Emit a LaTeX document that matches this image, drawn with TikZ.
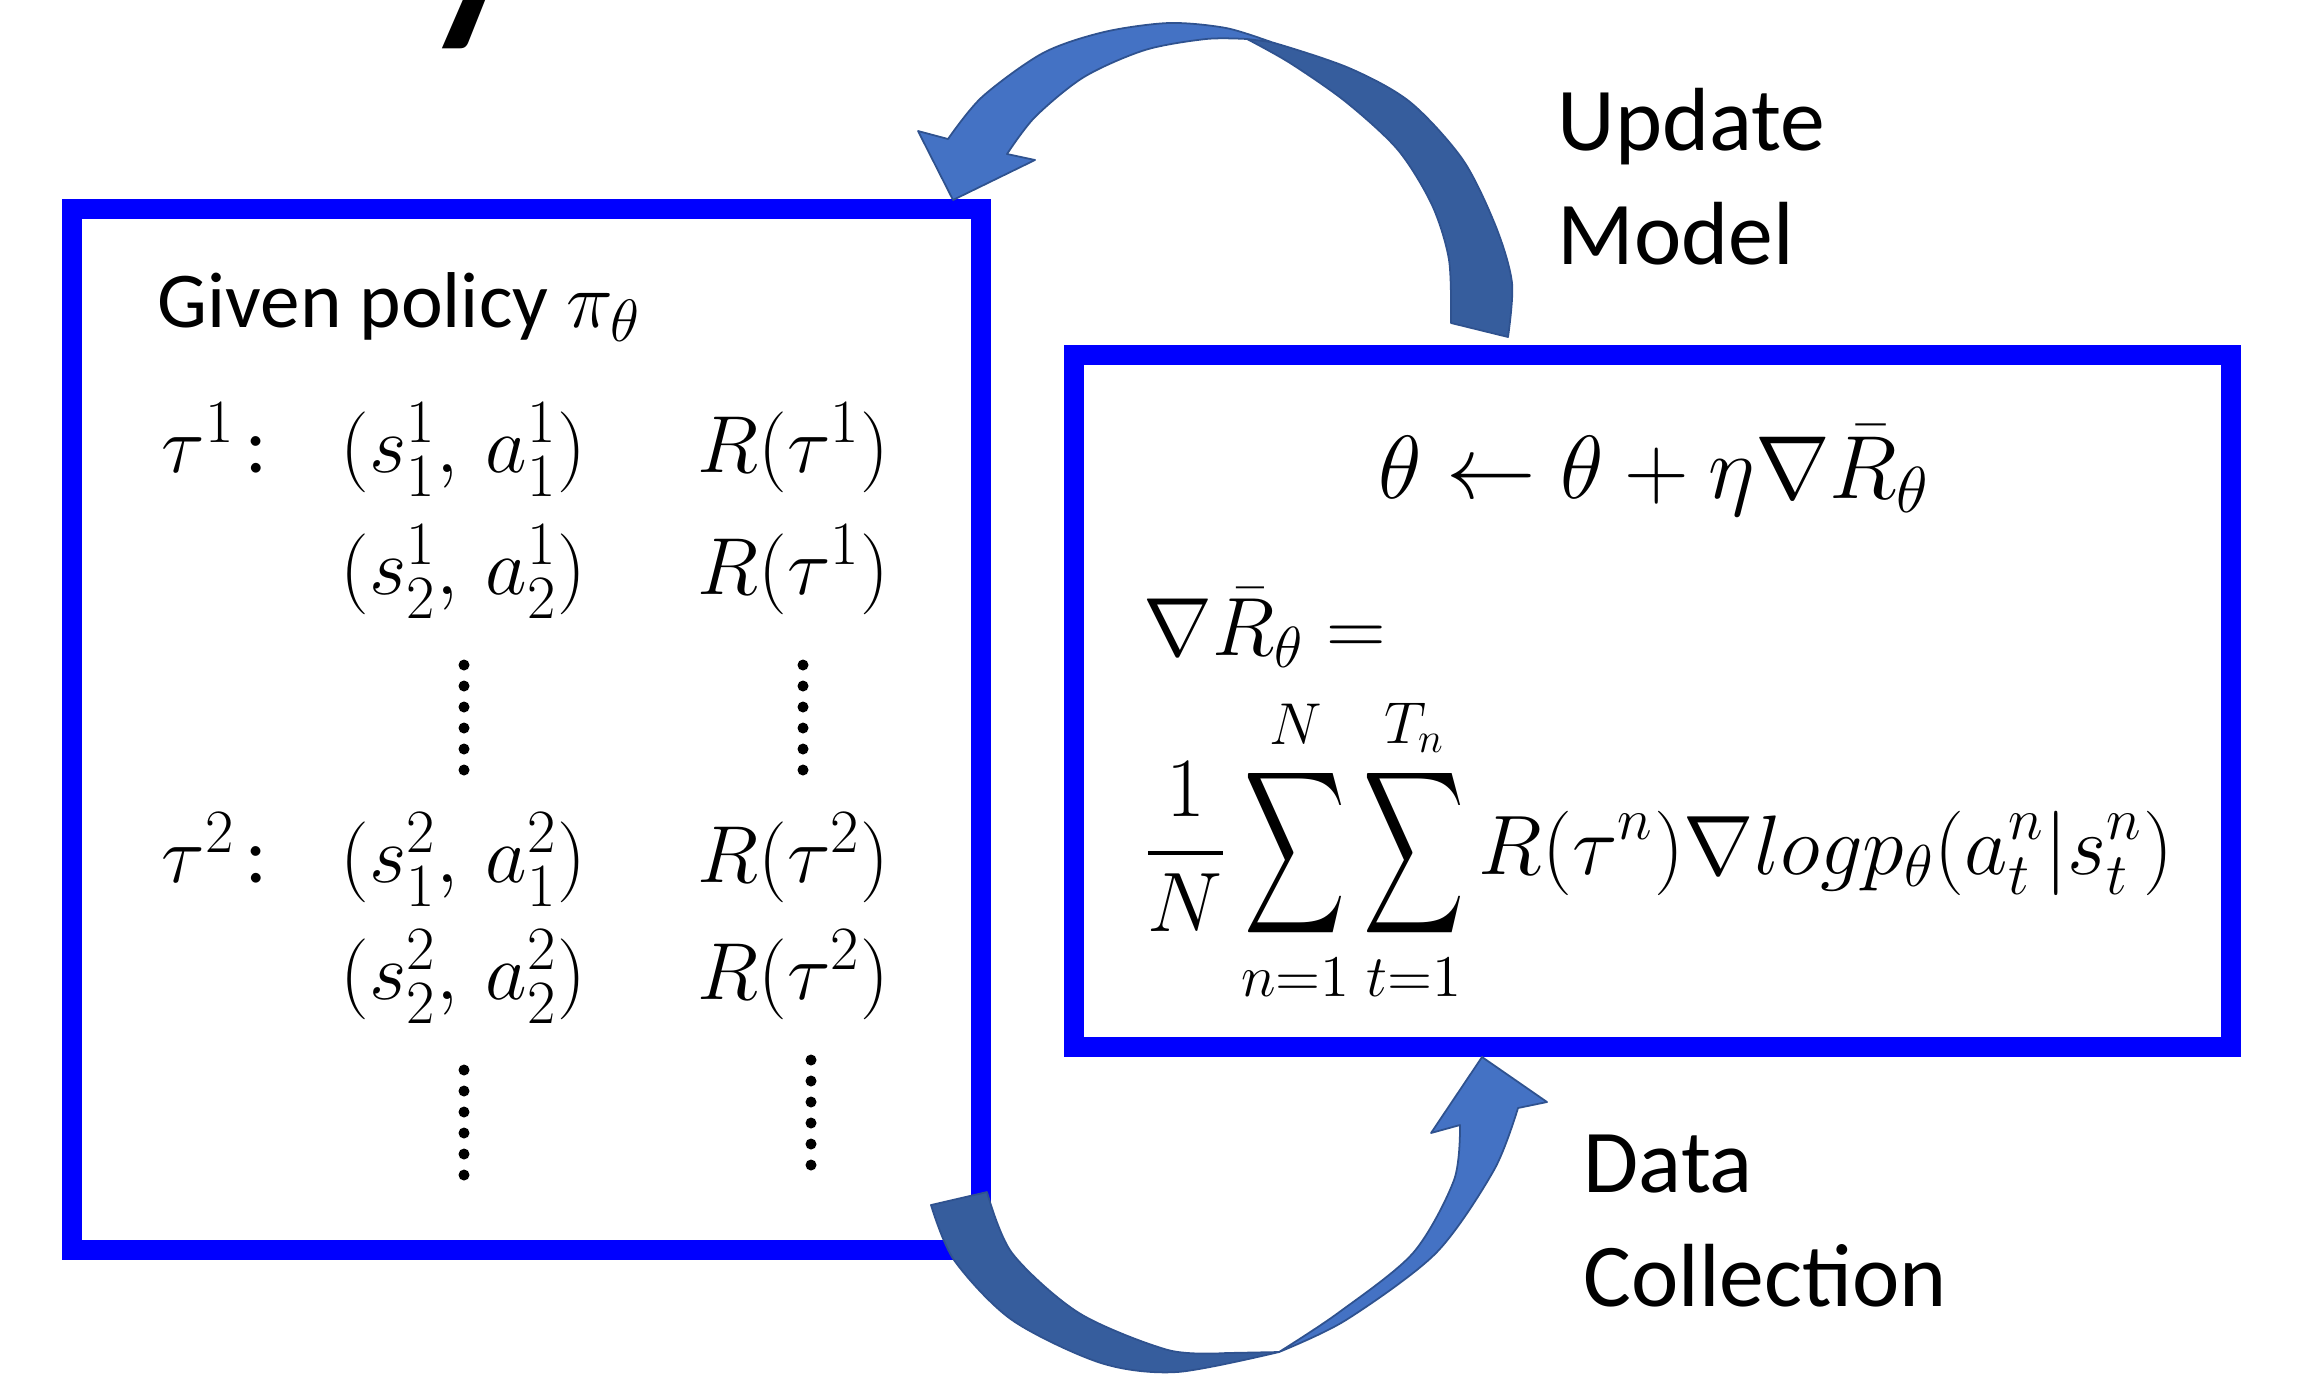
\RequirePackage{fix-cm}
\documentclass[tikz,border=0pt]{standalone}
\usepackage{exscale}
\usepackage{graphicx}
\usepackage[no-math]{fontspec}
\setmainfont{Carlito}
\usetikzlibrary{positioning}
\definecolor{frameblue}{HTML}{0000FF}
\definecolor{ribbonlight}{HTML}{4472C4}
\definecolor{ribbondark}{HTML}{365D9D}
\definecolor{ribbonedge}{HTML}{2F528F}
\DeclareMathSizes{22.5}{22.5}{17}{12}
\DeclareMathSizes{23}{23}{17.5}{12.5}
\DeclareMathSizes{23.5}{23.5}{16.5}{12}
\DeclareMathSizes{24}{24}{16.8}{12}
\DeclareMathSizes{25.5}{25.5}{18.5}{13}
\newcommand{\tallsum}{\mathop{\vcenter{\hbox{\scalebox{0.8}[1.3]{$\displaystyle\sum$}}}}\limits}

\begin{document}
\begin{tikzpicture}[
  x=0.01cm, y=-0.01cm,
  panel/.style={draw=frameblue, line width=0.2cm, inner sep=0pt},
  txt/.style={anchor=base west, inner sep=0pt, font=\fontsize{22.5}{27}\selectfont},
  row/.style={txt, font=\fontsize{23}{28}\selectfont},
  eqn/.style={anchor=base west, inner sep=0pt, font=\fontsize{23.5}{28}\selectfont},
  lbl/.style={anchor=base west, inner sep=0pt, align=left, font=\fontsize{25.5}{32.2}\selectfont},
  face/.style={fill=ribbonlight, draw=ribbonedge, line width=0.5pt, line join=round},
  back/.style={fill=ribbondark, draw=ribbonedge, line width=0.5pt, line join=round}
]
  \useasboundingbox (0,0) rectangle (2298,1384);

  \node[anchor=base west, inner sep=0pt, font=\fontsize{80}{90}\selectfont] (title) at (412,3) {y};

  \node[panel, minimum width=9.08cm, minimum height=10.41cm] (policy) at (526.5,729.5) {};
  \node[panel, minimum width=11.565cm, minimum height=6.91cm] (update) at (1652.25,701) {};

  \node[txt] (given) at (157,327) {Given policy $\pi_\theta$};
  \node[row] (tau1) at (161,472) {$\tau^1$\hspace{0.1cm}:};
  \node[row] (sa11) at (340,472) {$(s_1^1,\,a_1^1)$};
  \node[row] (ret11) at (697,472) {$R(\tau^1)$};
  \node[row] (sa12) at (340,594) {$(s_2^1,\,a_2^1)$};
  \node[row] (ret12) at (697,594) {$R(\tau^1)$};
  \node[row] (tau2) at (161,882) {$\tau^2$\hspace{0.1cm}:};
  \node[row] (sa21) at (340,882) {$(s_1^2,\,a_1^2)$};
  \node[row] (ret21) at (697,882) {$R(\tau^2)$};
  \node[row] (sa22) at (340,999) {$(s_2^2,\,a_2^2)$};
  \node[row] (ret22) at (697,999) {$R(\tau^2)$};
  \foreach \cx/\cy in {464/665, 803/665, 464/1070, 811/1060}
    \foreach \k in {0,...,5}
      \fill (\cx,\cy+21*\k) circle[radius=0.055cm];

  \node[eqn, anchor=base, font=\fontsize{25.5}{30}\selectfont] (rule) at (1654,498) {$\theta \leftarrow \theta + \eta\nabla\bar{R}_\theta$};
  \node[eqn] (gradlhs) at (1143,655) {$\nabla\bar{R}_\theta =$};
  \node[eqn, font=\fontsize{24}{29}\selectfont] (gradrhs) at (1143,874) {$\displaystyle\frac{1}{N}\tallsum_{n=1}^{N}\tallsum_{t=1}^{T_n}R(\tau^n)\nabla logp_\theta(a_t^n|s_t^n)$};

  \node[lbl] (upmodel) at (1557,264) {Update\\Model};
  \node[lbl] (datacol) at (1583,1306) {Data\\Collection};

  \filldraw[back] plot[smooth] coordinates {(1247,39) (1271,42) (1349,68) (1410,102) (1463,160) (1496,227) (1512,283) (1508,337)}
    -- plot[smooth] coordinates {(1451,323) (1449,260) (1432,205) (1398,150) (1346,102) (1290,63) (1247,39)} -- cycle;
  \filldraw[face] (953,200) -- (918,131)
    -- plot[smooth] coordinates {(948,139) (982,97) (1043,53) (1104,32) (1169,23) (1226,28) (1271,42)}
    -- plot[smooth] coordinates {(1247,39) (1206,39) (1145,50) (1084,77) (1035,117) (1007,154)}
    -- (1035,160) -- cycle;

  \filldraw[back] plot[smooth] coordinates {(931,1205) (954,1260) (1012,1320) (1101,1363) (1177,1372) (1279,1352)}
    -- plot[smooth] coordinates {(1226,1353) (1168,1350) (1079,1313) (1012,1253) (987,1192)} -- cycle;
  \filldraw[face] plot[smooth] coordinates {(1279,1352) (1346,1320) (1436,1253) (1494,1170) (1518,1108)}
    -- (1547,1102) -- (1482,1057) -- (1431,1133)
    -- plot[smooth] coordinates {(1460,1125) (1454,1180) (1413,1253) (1338,1313) (1279,1352)} -- cycle;
\end{tikzpicture}
\end{document}
